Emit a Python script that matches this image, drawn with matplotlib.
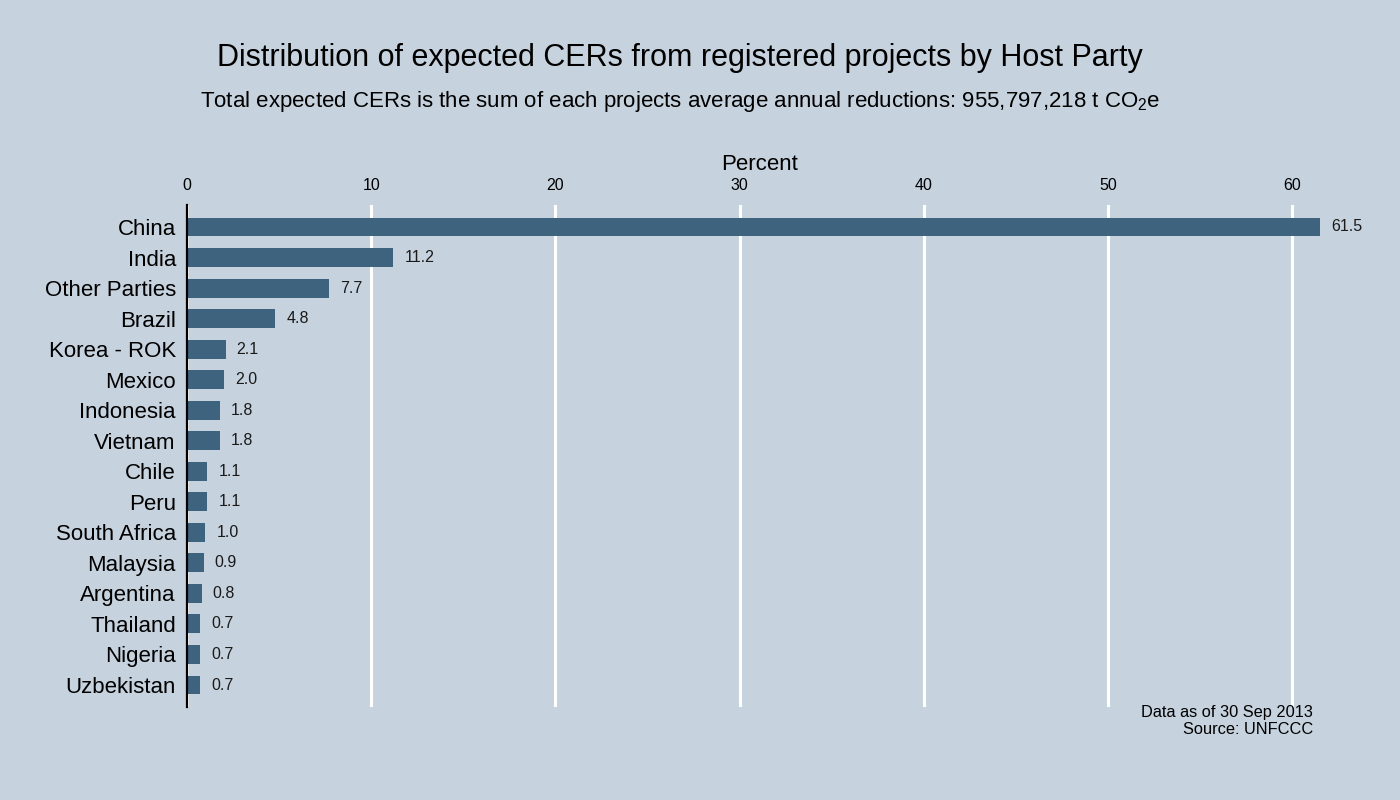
import matplotlib
matplotlib.use("Agg")
import matplotlib.pyplot as plt

countries = ["China", "India", "Other Parties", "Brazil", "Korea - ROK", "Mexico",
             "Indonesia", "Vietnam", "Chile", "Peru", "South Africa", "Malaysia",
             "Argentina", "Thailand", "Nigeria", "Uzbekistan"]
percent = [61.5, 11.2, 7.7, 4.8, 2.1, 2.0, 1.8, 1.8, 1.1, 1.1, 1.0, 0.9, 0.8, 0.7, 0.7, 0.7]
xticks = [0, 10, 20, 30, 40, 50, 60]

plt.rcParams['font.family'] = ['Liberation Sans', 'DejaVu Sans']
plt.rcParams['mathtext.fontset'] = 'custom'
plt.rcParams['mathtext.rm'] = 'Liberation Sans'
plt.rcParams['mathtext.it'] = 'Liberation Sans'
plt.rcParams['mathtext.bf'] = 'Liberation Sans'

bg = '#C6D2DE'
barc = '#3E637E'
W, H = 1400, 800
fig = plt.figure(figsize=(W / 100, H / 100), dpi=100, facecolor=bg)
left, right, top, bottom = 187, 1333, 205, 707
ax = fig.add_axes([left / W, 1 - bottom / H, (right - left) / W, (bottom - top) / H])
ax.set_facecolor(bg)

y = list(range(len(countries)))
ax.barh(y, percent, height=0.62, color=barc, zorder=3)
for yi, v in zip(y, percent):
    ax.text(v + 0.6, yi, f"{v:.1f}", va='center', ha='left', fontsize=11.5,
            color='#1a1a1a', clip_on=False)

ax.set_xlim(0, (right - left) / 18.42)
ax.set_ylim(len(countries) - 1 + 0.72, -0.72)
ax.set_yticks(y)
ax.set_yticklabels(countries, fontsize=16)
ax.set_xticks(xticks)
ax.set_xticklabels([str(t) for t in xticks], fontsize=11.5)
ax.xaxis.tick_top()
ax.xaxis.set_label_position('top')
ax.set_xlabel('Percent', fontsize=16, labelpad=6)
ax.tick_params(axis='both', length=0)
ax.tick_params(axis='x', pad=8.5)
ax.tick_params(axis='y', pad=8)
ax.grid(axis='x', color='white', linewidth=2.2, zorder=0)
for s in ['top', 'right', 'bottom']:
    ax.spines[s].set_visible(False)
ax.spines['left'].set_color('black')
ax.spines['left'].set_linewidth(1.6)
ax.spines['left'].set_zorder(4)

fig.text(680 / W, 1 - 58 / H, 'Distribution of expected CERs from registered projects by Host Party',
         ha='center', va='center', fontsize=22)
fig.text(680 / W, 1 - 102 / H,
         'Total expected CERs is the sum of each projects average annual reductions: 955,797,218 t CO$_2$e',
         ha='center', va='center', fontsize=16)
fig.text(1313 / W, 1 - 705 / H, 'Data as of 30 Sep 2013\nSource: UNFCCC', ha='right', va='top',
         fontsize=11.8, linespacing=1.15)

fig.savefig('out.png', dpi=100, facecolor=bg)
